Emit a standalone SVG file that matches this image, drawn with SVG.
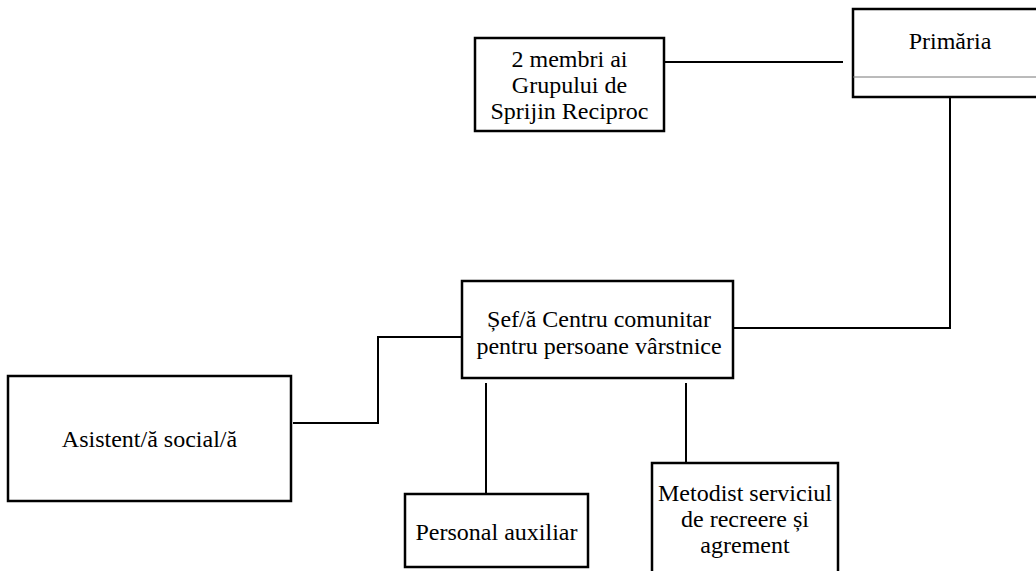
<svg xmlns="http://www.w3.org/2000/svg" width="1036" height="571" viewBox="0 0 1036 571">
<style>
.box{fill:#fff;stroke:#000;stroke-width:2.5}
.t{font-size:24px;fill:#000;text-anchor:middle}
.c{fill:none;stroke:#000;stroke-width:2}
</style>
<rect width="1036" height="571" fill="#fff"/>
<g id="connectors">
<line class="c" x1="665" y1="62" x2="843" y2="62"/>
<polyline class="c" points="950,97 950,328 733,328"/>
<polyline class="c" points="293,423 378,423 378,337 462,337"/>
<line class="c" x1="486" y1="383" x2="486" y2="494"/>
<line class="c" x1="686" y1="383" x2="686" y2="463"/>
</g>
<g font-family="Liberation Serif, Times New Roman, serif">
<g id="primaria">
<rect class="box" x="853" y="9" width="200" height="88"/>
<line x1="853" y1="77" x2="1036" y2="77" stroke="#777" stroke-width="1"/>
<text class="t" x="950" y="49">Primăria</text>
</g>
<g id="membri">
<rect class="box" x="475" y="38" width="189" height="93"/>
<text class="t" x="569.5" y="67">2 membri ai</text>
<text class="t" x="569.5" y="93">Grupului de</text>
<text class="t" x="569.5" y="119">Sprijin Reciproc</text>
</g>
<g id="sef">
<rect class="box" x="462" y="281" width="271" height="97"/>
<text class="t" x="599" y="327">Șef/ă Centru comunitar</text>
<text class="t" x="599" y="354">pentru persoane vârstnice</text>
</g>
<g id="asistent">
<rect class="box" x="8" y="376" width="283" height="125"/>
<text class="t" x="149.5" y="447">Asistent/ă social/ă</text>
</g>
<g id="personal">
<rect class="box" x="405" y="494" width="183" height="73"/>
<text class="t" x="496.5" y="540">Personal auxiliar</text>
</g>
<g id="metodist">
<rect class="box" x="652" y="463" width="186" height="120"/>
<text class="t" x="745" y="501">Metodist serviciul</text>
<text class="t" x="745" y="527">de recreere și</text>
<text class="t" x="745" y="553">agrement</text>
</g>
</g>
</svg>
